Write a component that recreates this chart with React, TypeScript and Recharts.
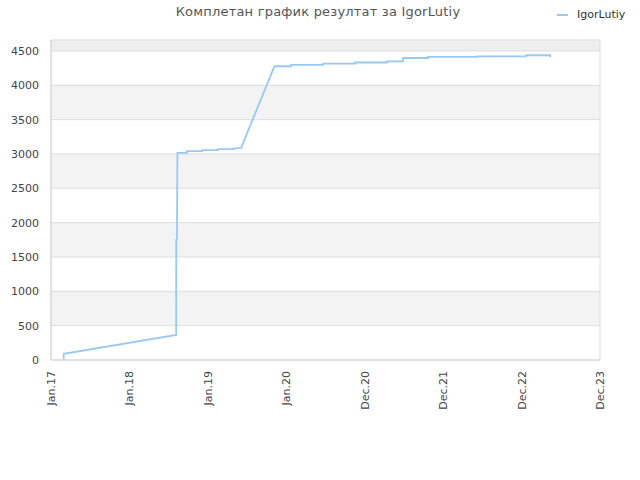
import React from 'react';
import { LineChart, Line, XAxis, YAxis, ReferenceArea, ReferenceLine } from 'recharts';

// time position on the evenly spaced date axis (0 = Jan.17, 7 = Dec.23)
const timePos = [
  0.162, 0.162, 1.596, 1.597, 1.606, 1.612, 1.732, 1.732, 1.927, 1.927, 2.131, 2.131,
  2.322, 2.322, 2.424, 2.849, 3.061, 3.061, 3.469, 3.469, 3.877, 3.877, 4.285, 4.285,
  4.489, 4.489, 4.808, 4.808, 5.433, 5.433, 6.057, 6.057, 6.365, 6.365,
];
const scores = [
  0, 90, 364, 1750, 1760, 3016, 3016, 3041, 3041, 3056, 3056, 3070,
  3070, 3080, 3089, 4278, 4278, 4297, 4297, 4317, 4317, 4332, 4332, 4350,
  4350, 4398, 4398, 4413, 4413, 4423, 4423, 4438, 4438, 4409,
];
const xTickLabels = ['Jan.17', 'Jan.18', 'Jan.19', 'Jan.20', 'Dec.20', 'Dec.21', 'Dec.22', 'Dec.23'];
const yTicks = [0, 500, 1000, 1500, 2000, 2500, 3000, 3500, 4000, 4500];
const yMax = 4660;

const data = timePos.map((t, i) => ({ t, score: scores[i] }));
const xTicks = xTickLabels.map((_, i) => i);

const FONT = '"DejaVu Sans", sans-serif';

function XTick({ x, y, payload }: any) {
  const yy = y + 3;
  return (
    <text
      x={x}
      y={yy}
      dy={4}
      transform={`rotate(-90 ${x} ${yy})`}
      textAnchor="end"
      fill="#444"
      fontSize={11}
      fontFamily={FONT}
    >
      {xTickLabels[payload.value]}
    </text>
  );
}

export default function App() {
  const bands = yTicks.map((v, i) => ({ y1: v, y2: i + 1 < yTicks.length ? yTicks[i + 1] : yMax, odd: i % 2 === 1 }));

  return (
    <div style={{ position: 'absolute', left: 0, top: 0, width: 640, height: 480, background: '#fff', fontFamily: FONT }}>
      <div style={{ position: 'absolute', left: 0, top: 4, width: 636, textAlign: 'center', fontSize: 13, color: '#555', letterSpacing: 0.2 }}>
        Комплетан график резултат за IgorLutiy
      </div>
      <div style={{ position: 'absolute', left: 557, top: 8, display: 'flex', alignItems: 'center', fontSize: 11, color: '#333' }}>
        <span style={{ display: 'inline-block', width: 11, height: 2, background: '#9ac8f5', marginRight: 9 }} />
        IgorLutiy
      </div>
      <LineChart width={640} height={480} data={data} margin={{ top: 40, right: 40, bottom: 0, left: 0 }}>
        {bands.map((b, i) => (
          <ReferenceArea
            key={`b${i}`}
            x1={0}
            x2={7}
            y1={b.y1}
            y2={b.y2}
            fill={b.y2 === yMax ? '#eeeeee' : b.odd ? '#f3f3f3' : '#ffffff'}
            fillOpacity={1}
            stroke="none"
            ifOverflow="hidden"
          />
        ))}
        {yTicks.slice(1).map((v) => (
          <ReferenceLine key={`g${v}`} y={v} stroke="#dddddd" strokeWidth={1} />
        ))}
        <ReferenceArea x1={0} x2={7} y1={0} y2={yMax} fill="none" stroke="#dcdcdc" strokeWidth={1} />
        <XAxis
          dataKey="t"
          type="number"
          domain={[0, 7]}
          ticks={xTicks}
          interval={0}
          height={120}
          tickLine={false}
          axisLine={{ stroke: '#d6d6d6' }}
          tick={<XTick />}
        />
        <YAxis
          type="number"
          domain={[0, yMax]}
          ticks={yTicks}
          interval={0}
          width={51}
          tickLine={false}
          tickMargin={6}
          axisLine={{ stroke: '#d6d6d6' }}
          tick={{ fill: '#444', fontSize: 11, fontFamily: FONT }}
        />
        <Line
          type="linear"
          dataKey="score"
          stroke="#9ac8f5"
          strokeWidth={1.8}
          dot={false}
          isAnimationActive={false}
        />
      </LineChart>
    </div>
  );
}
